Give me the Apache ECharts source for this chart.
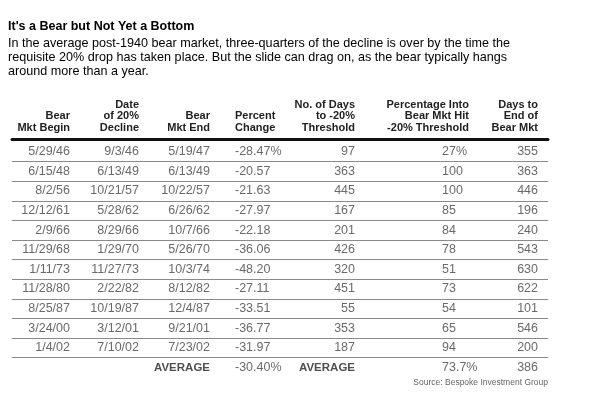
<!DOCTYPE html>
<html><head><meta charset="utf-8">
<script src="https://cdn.jsdelivr.net/npm/echarts@6/dist/echarts.min.js"></script>
<style>html,body{margin:0;padding:0;background:#fff}#c{width:600px;height:412px}</style>
</head><body><div id="c"></div>
<script>
var title = "It's a Bear but Not Yet a Bottom";
var subtitleLines = [
  "In the average post-1940 bear market, three-quarters of the decline is over by the time the",
  "requisite 20% drop has taken place. But the slide can drag on, as the bear typically hangs",
  "around more than a year."
];
var headers = [
  ["Bear", "Mkt Begin"],
  ["Date", "of 20%", "Decline"],
  ["Bear", "Mkt End"],
  ["Percent", "Change"],
  ["No. of Days", "to -20%", "Threshold"],
  ["Percentage Into", "Bear Mkt Hit", "-20% Threshold"],
  ["Days to", "End of", "Bear Mkt"]
];
var bearBegin = ['5/29/46','6/15/48','8/2/56','12/12/61','2/9/66','11/29/68','1/11/73','11/28/80','8/25/87','3/24/00','1/4/02'];
var decline20 = ['9/3/46','6/13/49','10/21/57','5/28/62','8/29/66','1/29/70','11/27/73','2/22/82','10/19/87','3/12/01','7/10/02'];
var bearEnd = ['5/19/47','6/13/49','10/22/57','6/26/62','10/7/66','5/26/70','10/3/74','8/12/82','12/4/87','9/21/01','7/23/02'];
var pctChange = [-28.47,-20.57,-21.63,-27.97,-22.18,-36.06,-48.20,-27.11,-33.51,-36.77,-31.97];
var daysTo20 = [97,363,445,167,201,426,320,451,55,353,187];
var pctInto = [27,100,100,85,84,78,51,73,54,65,94];
var daysToEnd = [355,363,446,196,240,543,630,622,101,546,200];
var avgLabel = 'AVERAGE';
var avgPctChange = -30.40;
var avgPctInto = 73.7;
var avgDaysToEnd = 386;
var source = 'Source: Bespoke Investment Group';

var nRows = bearBegin.length + 1;
var rowCats = [];
for (var i = 0; i < nRows; i++) rowCats.push('r' + i);

// column layout: x anchor and alignment
var cols = [
  {x: 70, align: 'right'},
  {x: 139, align: 'right'},
  {x: 210, align: 'right'},
  {x: 235, align: 'left'},
  {x: 355, align: 'right'},
  {x: 469, align: 'right', valX: 442, valAlign: 'left'},
  {x: 538, align: 'right'}
];

var bodyFont = 'Liberation Sans';
var pctText = pctChange.map(function (v, i) { return v.toFixed(2) + (i === 0 ? '%' : ''); });
var intoText = pctInto.map(function (v, i) { return v + (i === 0 ? '%' : ''); });
var colValues = [
  bearBegin, decline20, bearEnd,
  pctText.concat([avgPctChange.toFixed(2) + '%']),
  daysTo20.map(String),
  intoText.concat([avgPctInto.toFixed(1) + '%']),
  daysToEnd.map(String).concat([String(avgDaysToEnd)])
];
var avgLabelCols = {2: avgLabel, 4: avgLabel};

var series = colValues.map(function (vals, c) {
  var col = cols[c];
  var data = vals.map(function (t, r) {
    return {value: [col.valX || col.x, r], label: {formatter: t}};
  });
  if (avgLabelCols[c]) {
    data.push({value: [col.x, nRows - 1], label: {formatter: avgLabelCols[c], fontWeight: 'bold', color: '#222', fontSize: 11.5}});
  }
  return {
    type: 'scatter', symbolSize: 1, silent: true,
    itemStyle: {color: 'rgba(0,0,0,0)'},
    data: data,
    label: {show: true, position: 'inside', align: col.valAlign || col.align, verticalAlign: 'middle',
      color: '#444', fontFamily: bodyFont, fontSize: 12.5}
  };
});

var graphics = [];
graphics.push({type: 'text', left: 8, top: 20, style: {text: title, font: 'bold 12.5px "Liberation Sans"', fill: '#000'}});
subtitleLines.forEach(function (t, i) {
  graphics.push({type: 'text', left: 8, top: 37 + i * 14.2, style: {text: t, font: '12.6px "Liberation Sans"', fill: '#000'}});
});
var headerLineY = [105, 116.3, 127.6];
headers.forEach(function (lines, c) {
  var offset = 3 - lines.length;
  lines.forEach(function (t, j) {
    graphics.push({type: 'text', x: cols[c].x, y: headerLineY[j + offset],
      style: {text: t, font: 'bold 11px "Liberation Sans"', fill: '#222', textAlign: cols[c].align, textVerticalAlign: 'middle'}});
  });
});
graphics.push({type: 'text', x: 548, y: 383, style: {text: source, font: '8.5px "Liberation Sans"', fill: '#666', textAlign: 'right', textVerticalAlign: 'middle'}});

var lineColors = ['rgba(0,0,0,0)'];
for (var k = 0; k < nRows - 1; k++) lineColors.push('#8a8a8a');
lineColors.push('rgba(0,0,0,0)');

var chart = echarts.init(document.getElementById('c'), null, {renderer: 'canvas'});
chart.setOption({
  backgroundColor: '#fff',
  animation: false,
  grid: {left: 12, right: 52, top: 142, height: 19.6 * nRows},
  xAxis: {type: 'value', min: 12, max: 548, position: 'top', offset: 3,
    axisLine: {show: true, lineStyle: {color: '#111', width: 3}},
    axisTick: {show: false}, axisLabel: {show: false}, splitLine: {show: false}},
  yAxis: {type: 'category', data: rowCats, inverse: true,
    axisLine: {show: false}, axisTick: {show: false}, axisLabel: {show: false},
    splitLine: {show: true, lineStyle: {color: lineColors, width: 1}}},
  series: series,
  graphic: graphics
});
</script></body></html>
